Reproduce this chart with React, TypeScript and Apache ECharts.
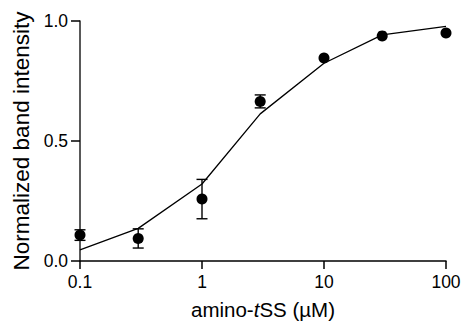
import React, { useEffect, useRef } from "react";
import * as echarts from "echarts";

const concentrations = [0.1, 0.3, 1, 3, 10, 30, 100];
const meanIntensity = [0.108, 0.094, 0.258, 0.665, 0.846, 0.938, 0.95];
const errIntensity = [0.022, 0.04, 0.082, 0.027, 0, 0, 0];
const fitIntensity = [0.046, 0.136, 0.321, 0.613, 0.824, 0.942, 0.978];
const xTicks = [0.1, 1, 10, 100];

export default function App() {
  const ref = useRef<HTMLDivElement>(null);
  useEffect(() => {
    if (!ref.current) return;
    const chart = echarts.init(ref.current, null, { renderer: "svg" });
    const font = "Liberation Sans, Arial, Helvetica, sans-serif";
    chart.setOption({
      animation: false,
      grid: { left: 80, right: 24, top: 21, bottom: 70, containLabel: false },
      xAxis: {
        type: "log",
        logBase: 10,
        min: 0.1,
        max: 100,
        name: "amino-{i|t}SS (µM)",
        nameLocation: "middle",
        nameGap: 38,
        nameTextStyle: {
          fontFamily: font,
          fontSize: 20.5,
          color: "#000",
          rich: { i: { fontStyle: "italic", fontFamily: font, fontSize: 20.5, color: "#000" } },
        },
        axisLine: { show: true, onZero: false, lineStyle: { color: "#000", width: 1.5 } },
        axisTick: { show: true, inside: false, length: 8, lineStyle: { color: "#000", width: 1.5 } },
        minorTick: { show: false },
        splitLine: { show: false },
        axisLabel: {
          margin: 12,
          fontFamily: font,
          fontSize: 17.5,
          color: "#000",
          formatter: (v: number) => {
            const t = xTicks.find((k) => Math.abs(k - v) < 1e-9);
            return t !== undefined ? String(t) : "";
          },
        },
      },
      yAxis: {
        type: "value",
        min: 0,
        max: 1,
        interval: 0.5,
        name: "Normalized band intensity",
        nameLocation: "middle",
        nameGap: 47,
        nameTextStyle: { fontFamily: font, fontSize: 22.5, color: "#000" },
        axisLine: { show: true, lineStyle: { color: "#222", width: 1.5 } },
        axisTick: { show: true, inside: false, length: 9, lineStyle: { color: "#000", width: 1.5 } },
        splitLine: { show: false },
        axisLabel: {
          margin: 12,
          fontFamily: font,
          fontSize: 17.5,
          color: "#000",
          formatter: (v: number) => v.toFixed(1),
        },
      },
      series: [
        {
          type: "line",
          data: concentrations.map((c, i) => [c, fitIntensity[i]]),
          showSymbol: false,
          symbol: "none",
          lineStyle: { color: "#000", width: 1.3 },
          z: 2,
        },
        {
          type: "custom",
          data: concentrations.map((c, i) => [c, meanIntensity[i] - errIntensity[i], meanIntensity[i] + errIntensity[i]]),
          renderItem: (params: any, api: any) => {
            const x = api.value(0);
            const lo = api.coord([x, api.value(1)]);
            const hi = api.coord([x, api.value(2)]);
            if (Math.abs(lo[1] - hi[1]) < 0.5) return { type: "group", children: [] };
            const hw = 5.5;
            const style = { stroke: "#000", lineWidth: 1.4 };
            return {
              type: "group",
              children: [
                { type: "line", shape: { x1: lo[0], y1: lo[1], x2: hi[0], y2: hi[1] }, style },
                { type: "line", shape: { x1: lo[0] - hw, y1: lo[1], x2: lo[0] + hw, y2: lo[1] }, style },
                { type: "line", shape: { x1: hi[0] - hw, y1: hi[1], x2: hi[0] + hw, y2: hi[1] }, style },
              ],
            };
          },
          z: 3,
        },
        {
          type: "scatter",
          data: concentrations.map((c, i) => [c, meanIntensity[i]]),
          symbol: "circle",
          symbolSize: 11,
          itemStyle: { color: "#000", opacity: 1 },
          z: 4,
        },
      ],
    });
    return () => chart.dispose();
  }, []);
  return <div ref={ref} style={{ width: 470, height: 331, position: "absolute", left: 0, top: 0 }} />;
}
